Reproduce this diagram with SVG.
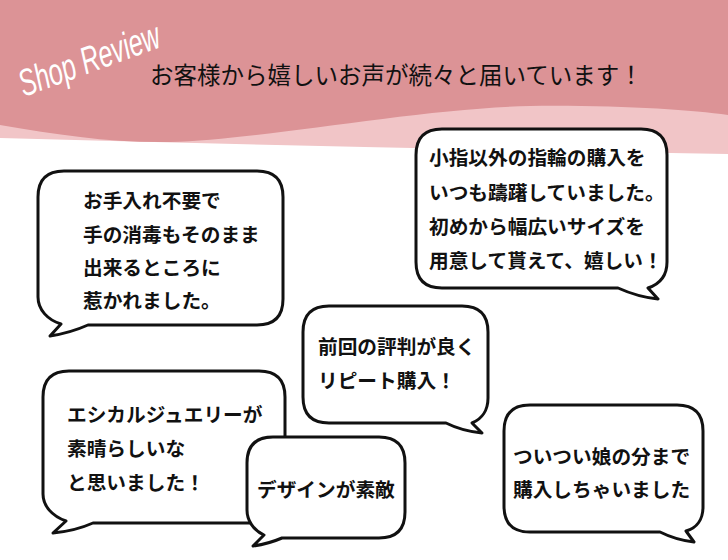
<svg xmlns="http://www.w3.org/2000/svg" width="728" height="560" viewBox="0 0 728 560">
<style>
.bubble{fill:#fff;stroke:#111;stroke-width:3;stroke-linejoin:round}
.t{font-family:"Noto Sans CJK JP","Noto Sans",sans-serif;font-weight:bold;font-size:19.7px;fill:#111}
.title{font-family:"Noto Sans CJK JP","Noto Sans",sans-serif;font-weight:400;font-size:23.5px;fill:#111}
.script{font-family:"Liberation Sans","DejaVu Sans",sans-serif;font-style:italic;font-size:38px;fill:#fff}
</style>
<rect width="728" height="560" fill="#fff"/>
<g id="header">
<path d="M0,0 H728 V154 Q364,148 0,138 Z" fill="#f1c5c7"/>
<path d="M0,0 H728 V115 C690,110 620,105 530,106 C420,108 260,140 170,142 C110,143 60,135 0,125 Z" fill="#dc9396"/>
<text class="script" transform="translate(24,97) rotate(-20)" textLength="148" lengthAdjust="spacingAndGlyphs">Shop Review</text>
<text class="title" x="150" y="84">お客様から嬉しいお声が続々と届いています！</text>
</g>
<g id="connectors"/>
<g id="review1">
<path class="bubble" d="M64,171 H257 Q283,171 283,197 V299 Q283,325 257,325 H88 Q70,333 50,336 L61,324 C48,320 38,310 38,297 V197 Q38,171 64,171 Z"/>
<text class="t" x="83" y="208">お手入れ不要で</text>
<text class="t" x="83" y="241.5">手の消毒もそのまま</text>
<text class="t" x="83" y="275">出来るところに</text>
<text class="t" x="83" y="308">惹かれました。</text>
</g>
<g id="review2">
<path class="bubble" d="M442,129 H641 Q667,129 667,155 V262 C667,275 660,284 648,288 L658,299 Q638,297 618,288 H442 Q416,288 416,262 V155 Q416,129 442,129 Z"/>
<text class="t" x="429" y="165">小指以外の指輪の購入を</text>
<text class="t" x="429" y="200">いつも躊躇していました。</text>
<text class="t" x="429" y="234">初めから幅広いサイズを</text>
<text class="t" x="429" y="268">用意して貰えて、嬉しい！</text>
</g>
<g id="review3">
<path class="bubble" d="M329,306 H462 Q488,306 488,332 V398 C488,410 482,419 472,423 L482,433 Q462,431 446,423 H329 Q303,423 303,397 V332 Q303,306 329,306 Z"/>
<text class="t" x="318" y="354">前回の評判が良く</text>
<text class="t" x="318" y="388">リピート購入！</text>
</g>
<g id="review4">
<path class="bubble" d="M69,371 H259 Q285,371 285,397 V497 Q285,523 259,523 H93 Q75,531 53,533 L66,521 C52,516 43,506 43,494 V397 Q43,371 69,371 Z"/>
<text class="t" x="67" y="422">エシカルジュエリーが</text>
<text class="t" x="67" y="456">素晴らしいな</text>
<text class="t" x="67" y="490">と思いました！</text>
</g>
<g id="review5">
<path class="bubble" d="M273,437 H379 Q405,437 405,463 V512 Q405,538 379,538 H282 Q268,544 253,546 L264,535 C253,530 247,520 247,510 V463 Q247,437 273,437 Z"/>
<text class="t" x="257" y="497">デザインが素敵</text>
</g>
<g id="review6">
<path class="bubble" d="M530,405 H677 Q703,405 703,431 V507 C703,519 697,528 686,531 L694,542 Q676,540 660,532 H530 Q504,532 504,506 V431 Q504,405 530,405 Z"/>
<text class="t" x="513" y="464">ついつい娘の分まで</text>
<text class="t" x="513" y="497">購入しちゃいました</text>
</g>
</svg>
